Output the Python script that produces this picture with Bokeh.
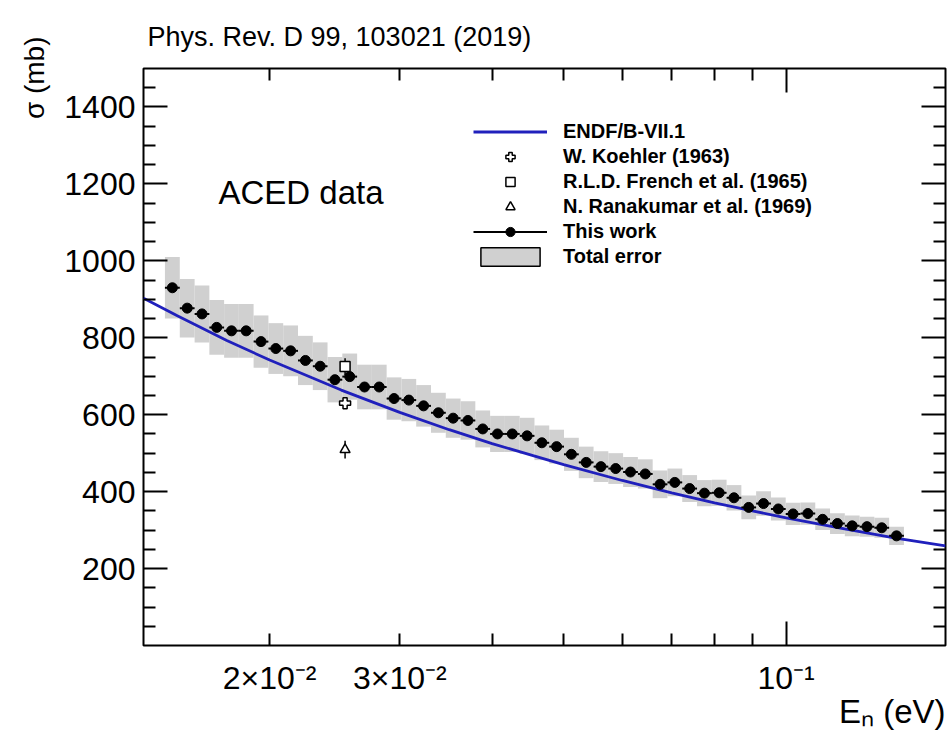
import numpy as np
from bokeh.plotting import figure
from bokeh.models import (LogAxis, LinearAxis, FixedTicker, Title, Label, Legend,
                          LegendItem, ColumnDataSource, Range1d)
from bokeh.embed import file_html
from bokeh.resources import INLINE

FONT = "Liberation Sans"

# ---------------- data ----------------
energy = [0.01477, 0.01547, 0.01620, 0.01696, 0.01776, 0.01859, 0.01947, 0.02039,
          0.02135, 0.02236, 0.02341, 0.02451, 0.02567, 0.02688, 0.02814, 0.02947,
          0.03086, 0.03231, 0.03384, 0.03543, 0.03710, 0.03885, 0.04068, 0.04260,
          0.04461, 0.04671, 0.04891, 0.05121, 0.05363, 0.05615, 0.05880, 0.06157,
          0.06447, 0.06751, 0.07069, 0.07403, 0.07752, 0.08117, 0.08499, 0.08900,
          0.09319, 0.09759, 0.10218, 0.10700, 0.11204, 0.11732, 0.12285, 0.12864,
          0.13470, 0.14105]
sigma = [930, 877, 862, 827, 818, 818, 790, 772, 766, 741, 726, 691, 699, 672, 672,
         642, 638, 623, 605, 591, 585, 563, 550, 550, 545, 527, 517, 497, 476, 465,
         460, 451, 446, 419, 424, 408, 396, 397, 384, 359, 369, 355, 342, 343, 328,
         317, 311, 309, 306, 285]
sigma_err = [80, 76, 74, 71, 70, 70, 68, 66, 66, 64, 62, 59, 60, 58, 58, 55, 55, 54,
             52, 51, 50, 48, 47, 47, 47, 45, 44, 43, 41, 40, 40, 39, 38, 36, 36, 35,
             34, 34, 33, 31, 32, 30, 29, 29, 28, 27, 27, 26, 26, 24]

endf_energy = [0.0135, 0.015, 0.0175, 0.02, 0.025, 0.03, 0.035, 0.04, 0.05, 0.06,
               0.07, 0.08, 0.09, 0.1, 0.12, 0.14, 0.1643]
endf_sigma = [903, 857, 793, 742, 664, 606, 561, 525, 470, 429, 397, 371, 350, 332,
              303, 280, 259]

ref_energy = [0.0253]
koehler_sigma = [630]
koehler_err = [15]
french_sigma = [725]
french_err = [22]
ranakumar_sigma = [509]
ranakumar_err = [23]

x_major = [0.1]
x_minor = [0.02, 0.03, 0.04, 0.05, 0.06, 0.07, 0.08, 0.09]
x_label_ticks = [0.02, 0.03, 0.1]
x_label_text = ["2×10⁻²", "3×10⁻²", "10⁻¹"]
y_major = [200, 400, 600, 800, 1000, 1200, 1400]
y_minor = [50, 100, 150, 250, 300, 350, 450, 500, 550, 650, 700, 750, 850, 900, 950,
           1050, 1100, 1150, 1250, 1300, 1350, 1450]

# ---------------- derived bin edges ----------------
e = np.array(energy)
s = np.array(sigma)
se = np.array(sigma_err)
mid = np.sqrt(e[:-1] * e[1:])
lo = np.concatenate([[e[0] * np.sqrt(e[0] / e[1])], mid])
hi = np.concatenate([mid, [e[-1] * np.sqrt(e[-1] / e[-2])]])

src = ColumnDataSource(dict(x=e, y=s, lo=lo, hi=hi, top=s + se, bot=s - se))

p = figure(width=949, height=743, x_axis_type="log",
           x_range=Range1d(0.0135, 0.1643), y_range=Range1d(0, 1500),
           x_axis_location=None, y_axis_location=None,
           output_backend="svg", toolbar_location=None,
           min_border_left=143, min_border_right=4, min_border_top=68,
           min_border_bottom=98)
for g in p.grid:
    g.visible = False
p.outline_line_color = "black"
p.outline_line_width = 2
p.background_fill_color = "white"
p.border_fill_color = "white"

# error band
band = p.quad(left="lo", right="hi", top="top", bottom="bot", source=src,
              fill_color="#d0d0d0", line_color=None)
band_leg = p.quad(left="lo", right="hi", top="top", bottom="bot", source=src,
                  fill_color="#d0d0d0", line_color="black", line_width=1.5,
                  visible=False)

# ENDF
endf = p.line(endf_energy, endf_sigma, line_color="#2020bc", line_width=2.8)

# This work
seg = p.segment(x0="lo", x1="hi", y0="y", y1="y", source=src, line_color="black",
                line_width=2)
dots = p.scatter("x", "y", source=src, marker="circle", size=10, fill_color="black",
                 line_color="black")

# older measurements
def errbar(y, err):
    p.segment(x0=ref_energy, x1=ref_energy, y0=[a - b for a, b in zip(y, err)],
              y1=[a + b for a, b in zip(y, err)], line_color="black", line_width=1.5)

errbar(koehler_sigma, koehler_err)
errbar(french_sigma, french_err)
errbar(ranakumar_sigma, ranakumar_err)
koe = p.scatter(ref_energy, koehler_sigma, marker="plus", size=11, fill_color="white",
                line_color="black", line_width=1.5)
fre = p.scatter(ref_energy, french_sigma, marker="square", size=10, fill_color="white",
                line_color="black", line_width=1.5)
ran = p.scatter(ref_energy, ranakumar_sigma, marker="triangle", size=10,
                fill_color="white", line_color="black", line_width=1.5)

# ---------------- axes ----------------
def style_ticks(ax):
    ax.axis_line_color = None
    ax.major_tick_in = 24
    ax.major_tick_out = 0
    ax.minor_tick_in = 12
    ax.minor_tick_out = 0
    ax.major_tick_line_width = 2
    ax.minor_tick_line_width = 2
    ax.major_tick_line_color = "black"
    ax.minor_tick_line_color = "black"

def hide_labels(ax):
    ax.major_label_text_font_size = "0px"
    ax.major_label_text_alpha = 0
    ax.major_label_standoff = 0

xb1 = LogAxis(ticker=FixedTicker(ticks=x_major, minor_ticks=x_minor))
style_ticks(xb1); hide_labels(xb1)
p.add_layout(xb1, "below")

xb2 = LogAxis(ticker=FixedTicker(ticks=x_label_ticks, minor_ticks=[]),
              major_label_overrides={k: v for k, v in zip(x_label_ticks, x_label_text)})
xb2.axis_line_color = None
xb2.major_tick_line_color = None
xb2.minor_tick_line_color = None
xb2.major_tick_in = 0
xb2.major_tick_out = 0
xb2.major_label_text_font = FONT
xb2.major_label_text_font_size = "32px"
xb2.major_label_text_color = "black"
xb2.major_label_standoff = 14
p.add_layout(xb2, "below")

xt = LogAxis(ticker=FixedTicker(ticks=x_major, minor_ticks=x_minor))
style_ticks(xt); hide_labels(xt)
p.add_layout(xt, "above")

yl = LinearAxis(ticker=FixedTicker(ticks=y_major, minor_ticks=y_minor))
style_ticks(yl)
yl.major_label_text_font = FONT
yl.major_label_text_font_size = "32px"
yl.major_label_text_color = "black"
yl.major_label_standoff = 8
p.add_layout(yl, "left")

yr = LinearAxis(ticker=FixedTicker(ticks=y_major, minor_ticks=y_minor))
style_ticks(yr); hide_labels(yr)
p.add_layout(yr, "right")

# ---------------- titles ----------------
p.add_layout(Title(text="Phys. Rev. D 99, 103021 (2019)", align="left", offset=4,
                   text_font=FONT, text_font_size="27px", text_font_style="normal",
                   text_color="black", standoff=34), "above")
p.add_layout(Title(text="σ (mb)", align="right", offset=-32, text_font=FONT,
                   text_font_size="28px", text_font_style="normal",
                   text_color="black", standoff=24), "left")
p.add_layout(Title(text="Eₙ (eV)", align="right", offset=0, text_font=FONT,
                   text_font_size="33px", text_font_style="normal",
                   text_color="black", standoff=-12, vertical_align="top"), "below")

p.add_layout(Label(x=75, y=435, x_units="screen", y_units="screen", text="ACED data",
                   text_font=FONT, text_font_size="33px", text_color="black"))

# ---------------- legend ----------------
legend = Legend(items=[
    LegendItem(label="ENDF/B-VII.1", renderers=[endf]),
    LegendItem(label="W. Koehler (1963)", renderers=[koe]),
    LegendItem(label="R.L.D. French et al. (1965)", renderers=[fre]),
    LegendItem(label="N. Ranakumar et al. (1969)", renderers=[ran]),
    LegendItem(label="This work", renderers=[seg, dots]),
    LegendItem(label="Total error", renderers=[band_leg]),
], location=(330, 377), orientation="vertical")
legend.label_text_font = FONT
legend.label_text_font_size = "20px"
legend.label_text_font_style = "bold"
legend.label_text_color = "black"
legend.glyph_width = 74
legend.glyph_height = 23
legend.label_height = 23
legend.label_standoff = 16
legend.spacing = 2
legend.padding = 0
legend.margin = 0
legend.border_line_color = None
legend.background_fill_alpha = 0
legend.inactive_fill_alpha = 0
p.add_layout(legend, "center")

open("out.html", "w").write(file_html(p, INLINE))
